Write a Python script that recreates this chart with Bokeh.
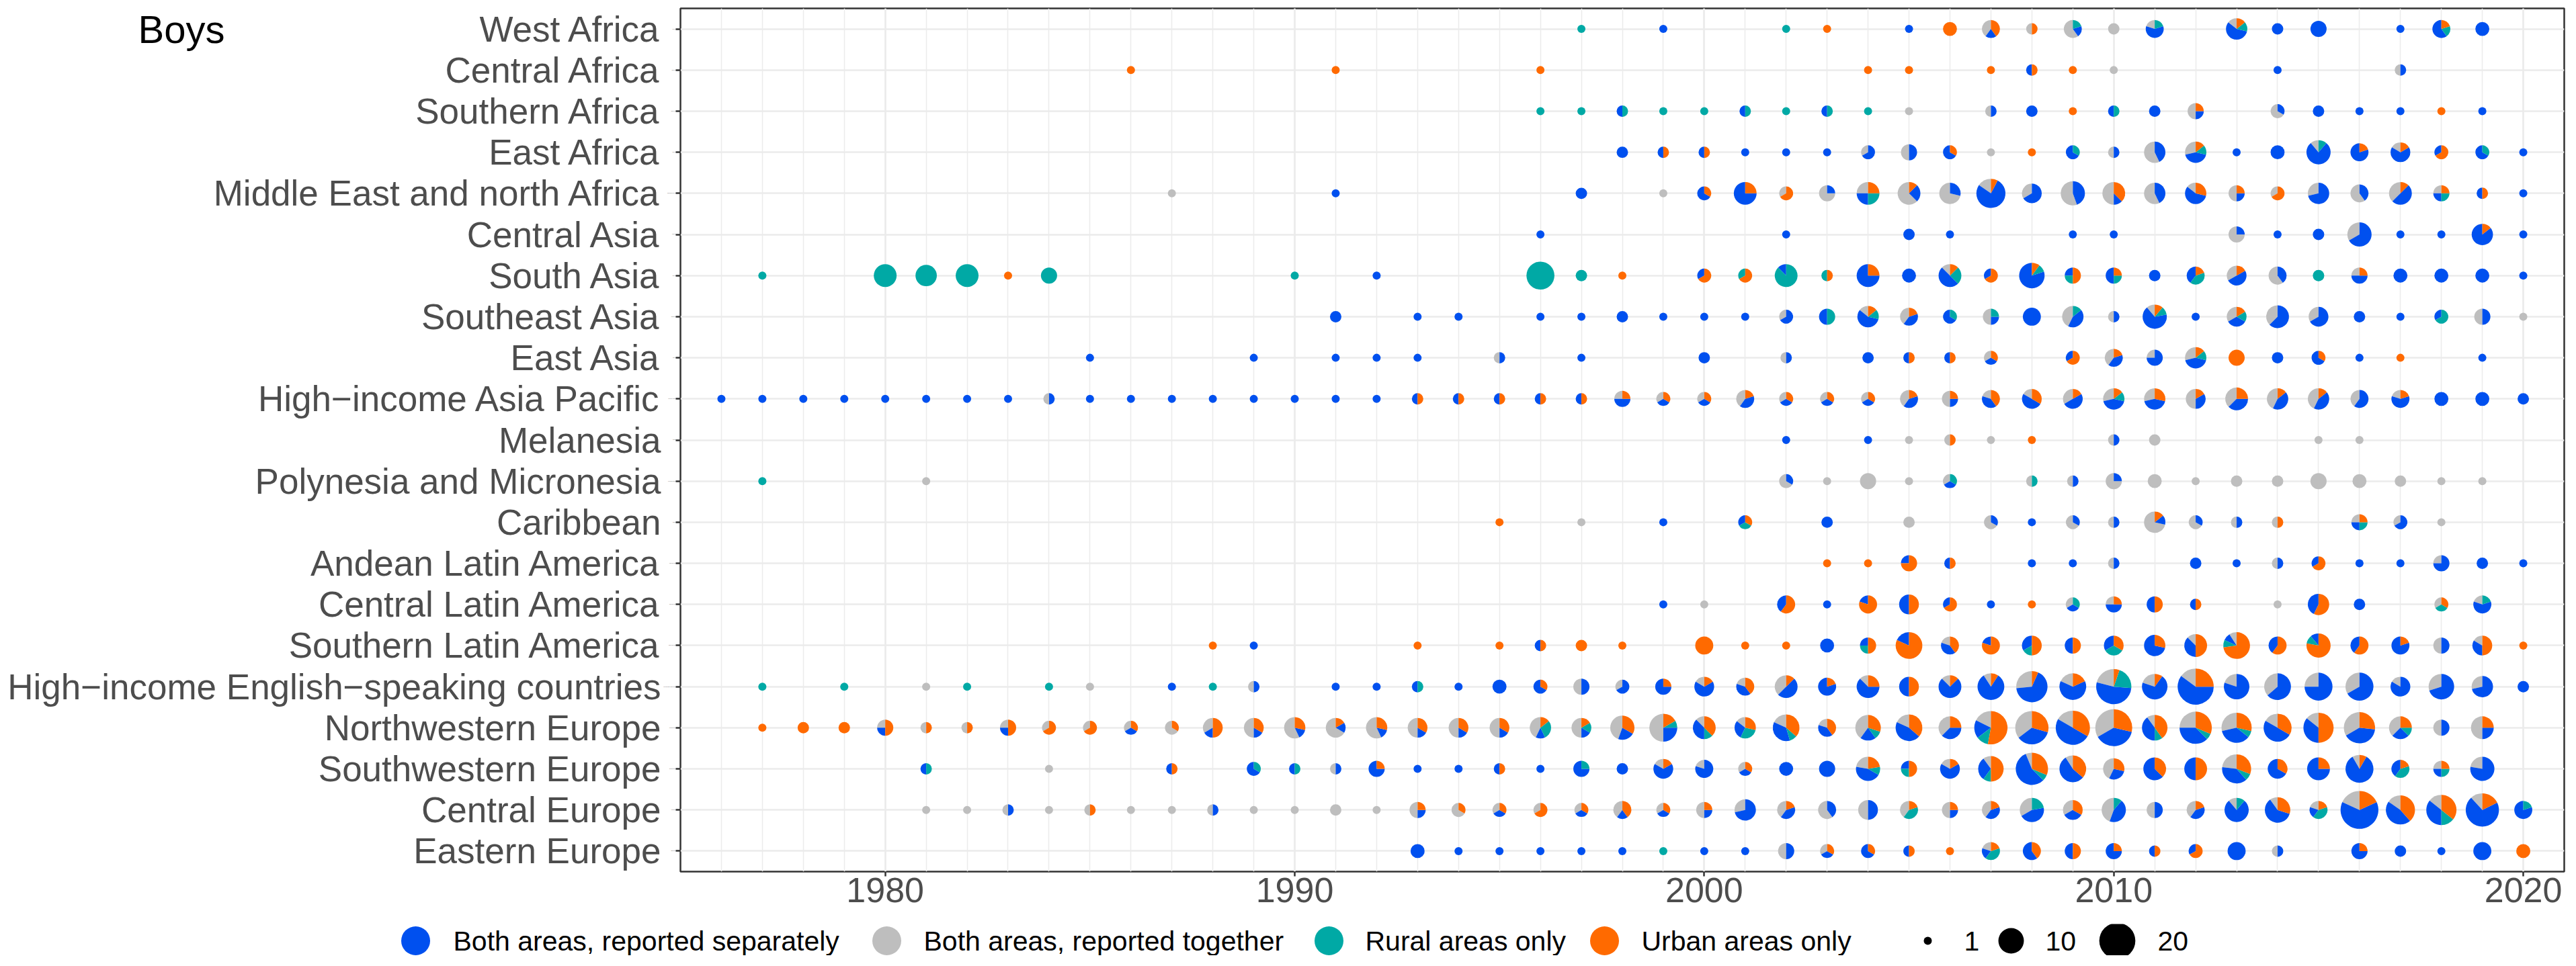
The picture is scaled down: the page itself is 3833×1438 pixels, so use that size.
import math
from bokeh.plotting import figure
from bokeh.models import ColumnDataSource, Range1d, FactorRange, SingleIntervalTicker
from bokeh.layouts import column, row
from bokeh.embed import file_html
from bokeh.resources import INLINE
from bokeh.core.properties import value

TITLE = "Boys"
# Regions, top to bottom
REGIONS = [
    "West Africa", "Central Africa", "Southern Africa", "East Africa",
    "Middle East and north Africa", "Central Asia", "South Asia", "Southeast Asia",
    "East Asia", "High\u2212income Asia Pacific", "Melanesia", "Polynesia and Micronesia",
    "Caribbean", "Andean Latin America", "Central Latin America", "Southern Latin America",
    "High\u2212income English\u2212speaking countries", "Northwestern Europe",
    "Southwestern Europe", "Central Europe", "Eastern Europe",
]

CATEGORIES = ["Both areas, reported separately", "Both areas, reported together",
              "Rural areas only", "Urban areas only"]
COLORS = ["#0050EF", "#BEBEBE", "#00A9A5", "#FF6A00"]
SIZE_BREAKS = [1, 10, 20]

# each entry: (year, separately, together, rural only, urban only)
west_africa = [(1997,0,0,1,0),(1999,1,0,0,0),(2002,0,0,1,0),(2003,0,0,0,1),(2005,1,0,0,0),
    (2006,0,0,0,3),(2007,1,2,0,2),(2008,0,1,0,1),(2009,1,3,1,0),(2010,0,2,0,0),(2011,3,1,1,0),
    (2013,4,1,1,1),(2014,2,0,0,0),(2015,4,0,0,0),(2017,1,0,0,0),(2018,3,0,1,1),(2019,3,0,0,0)]
central_africa = [(1986,0,0,0,1),(1991,0,0,0,1),(1996,0,0,0,1),(2004,0,0,0,1),(2005,0,0,0,1),
    (2007,0,0,0,1),(2008,1,0,0,1),(2009,0,0,0,1),(2010,0,1,0,0),(2014,1,0,0,0),(2017,1,1,0,0)]
southern_africa = [(1996,0,0,1,0),(1997,0,0,1,0),(1998,1,0,1,0),(1999,0,0,1,0),(2000,0,0,1,0),
    (2001,1,0,1,0),(2002,0,0,1,0),(2003,1,0,1,0),(2004,0,0,1,0),(2005,0,1,0,0),(2007,1,1,0,0),
    (2008,2,0,0,0),(2009,0,0,0,1),(2010,1,0,1,0),(2011,2,0,0,0),(2012,1,2,0,1),(2014,1,2,0,0),
    (2015,2,0,0,0),(2016,1,0,0,0),(2017,1,0,0,0),(2018,0,0,0,1),(2019,1,0,0,0)]
east_africa = [(1998,2,0,0,0),(1999,1,0,0,1),(2000,1,0,0,1),(2001,1,0,0,0),(2002,1,0,0,0),
    (2003,1,0,0,0),(2004,2,1,0,0),(2005,2,2,0,0),(2006,2,0,0,1),(2007,0,1,0,0),(2008,0,0,0,1),
    (2009,2,0,1,0),(2010,1,1,0,0),(2011,3,4,0,0),(2012,3,2,1,1),(2013,1,0,0,0),(2014,3,0,0,0),
    (2015,7,1,1,0),(2016,4,0,0,1),(2017,4,1,0,1),(2018,1,0,0,2),(2019,2,0,1,0),(2020,1,0,0,0)]
mena = [(1987,0,1,0,0),(1991,1,0,0,0),(1997,2,0,0,0),(1999,0,1,0,0),(2000,2,0,0,1),
    (2001,6,0,0,2),(2002,0,1,0,2),(2003,1,3,0,0),(2004,2,2,2,2),(2005,2,5,0,1),(2006,2,5,0,0),
    (2007,10,2,0,1),(2008,4,2,0,0),(2009,4,5,0,0),(2010,1,4,0,3),(2011,3,4,0,0),(2012,4,1,0,2),
    (2013,1,2,0,1),(2014,0,1,0,2),(2015,5,2,0,0),(2016,2,3,0,0),(2017,4,3,0,1),(2018,1,1,1,1),
    (2019,1,0,0,1),(2020,1,0,0,0)]
central_asia = [(1996,1,0,0,0),(2002,1,0,0,0),(2005,2,0,0,0),(2006,1,0,0,0),(2009,1,0,0,0),
    (2010,1,0,0,0),(2013,1,3,0,0),(2014,1,0,0,0),(2015,2,0,0,0),(2016,6,3,0,0),(2017,1,0,0,0),
    (2018,1,0,0,0),(2019,6,0,0,1),(2020,1,0,0,0)]
south_asia = [(1977,0,0,1,0),(1980,0,0,8,0),(1981,0,0,7,0),(1982,0,0,8,0),(1983,0,0,0,1),
    (1984,0,0,4,0),(1990,0,0,1,0),(1992,1,0,0,0),(1996,0,0,12,0),(1997,0,0,2,0),(1998,0,0,0,1),
    (2000,1,0,0,2),(2001,0,0,1,2),(2002,1,0,7,0),(2003,0,0,1,1),(2004,6,0,0,2),(2005,3,0,0,0),
    (2006,4,1,2,1),(2007,1,0,0,2),(2008,8,0,1,1),(2009,1,0,1,2),(2010,2,0,1,1),(2011,2,0,0,0),
    (2012,2,0,2,1),(2013,3,2,0,1),(2014,2,3,0,0),(2015,0,0,2,0),(2016,2,1,0,1),(2017,3,0,0,0),
    (2018,3,0,0,0),(2019,3,0,0,0),(2020,1,0,0,0)]
southeast_asia = [(1991,2,0,0,0),(1993,1,0,0,0),(1994,1,0,0,0),(1996,1,0,0,0),(1997,1,0,0,0),
    (1998,2,0,0,0),(1999,1,0,0,0),(2000,1,0,0,0),(2001,1,0,0,0),(2002,2,1,0,0),(2003,2,0,2,0),
    (2004,4,1,1,1),(2005,2,2,0,1),(2006,2,0,1,0),(2007,1,2,1,0),(2008,5,0,0,0),(2009,3,3,1,0),
    (2010,1,1,0,0),(2011,6,1,1,1),(2012,1,0,0,0),(2013,2,2,1,1),(2014,5,3,0,0),(2015,4,2,0,0),
    (2016,2,0,0,0),(2017,1,0,0,0),(2018,1,0,2,0),(2019,2,2,0,0),(2020,0,1,0,0)]
east_asia = [(1985,1,0,0,0),(1989,1,0,0,0),(1991,1,0,0,0),(1992,1,0,0,0),(1993,1,0,0,0),
    (1995,1,1,0,0),(1997,1,0,0,0),(2000,2,0,0,0),(2002,1,1,0,0),(2004,2,0,0,0),(2005,1,0,0,1),
    (2006,1,0,0,1),(2007,1,1,0,1),(2009,1,0,0,2),(2010,2,2,0,1),(2011,3,1,0,0),(2012,3,2,1,1),
    (2013,0,0,0,4),(2014,2,0,0,0),(2015,2,0,0,1),(2016,1,0,0,0),(2017,0,0,0,1),(2019,1,0,0,0)]
hi_asia_pacific = [(1976,1,0,0,0),(1977,1,0,0,0),(1978,1,0,0,0),(1979,1,0,0,0),(1980,1,0,0,0),
    (1981,1,0,0,0),(1982,1,0,0,0),(1983,1,0,0,0),(1984,1,1,0,0),(1985,1,0,0,0),(1986,1,0,0,0),
    (1987,1,0,0,0),(1988,1,0,0,0),(1989,1,0,0,0),(1990,1,0,0,0),(1991,1,0,0,0),(1992,1,0,0,0),
    (1993,1,0,0,1),(1994,1,0,0,1),(1995,1,0,0,1),(1996,1,0,0,1),(1997,1,0,0,1),(1998,2,1,0,1),
    (1999,1,1,0,1),(2000,1,1,0,1),(2001,2,2,0,1),(2002,1,1,0,1),(2003,1,1,0,1),(2004,1,1,0,1),
    (2005,2,2,0,1),(2006,1,2,0,1),(2007,2,1,0,2),(2008,3,1,0,2),(2009,3,2,0,1),(2010,3,2,1,1),
    (2011,3,2,0,2),(2012,2,3,0,1),(2013,3,3,0,2),(2014,3,3,0,1),(2015,3,3,0,1),(2016,3,2,0,0),
    (2017,3,1,0,1),(2018,3,0,0,0),(2019,3,0,0,0),(2020,2,0,0,0)]
melanesia = [(2002,1,0,0,0),(2004,1,0,0,0),(2005,0,1,0,0),(2006,0,1,0,1),(2007,0,1,0,0),
    (2008,0,0,0,1),(2010,1,1,0,0),(2011,0,2,0,0),(2015,0,1,0,0),(2016,0,1,0,0)]
polynesia_micronesia = [(1977,0,0,1,0),(1981,0,1,0,0),(2002,1,2,0,0),(2003,0,1,0,0),(2004,0,4,0,0),
    (2005,0,1,0,0),(2006,1,1,1,0),(2008,0,1,1,0),(2009,1,1,0,0),(2010,1,3,0,0),(2011,0,3,0,0),
    (2012,0,1,0,0),(2013,0,2,0,0),(2014,0,2,0,0),(2015,0,4,0,0),(2016,0,3,0,0),(2017,0,2,0,0),
    (2018,0,1,0,0),(2019,0,1,0,0)]
caribbean = [(1995,0,0,0,1),(1997,0,1,0,0),(1999,1,0,0,0),(2001,1,0,1,1),(2003,2,0,0,0),
    (2005,0,2,0,0),(2007,1,2,0,0),(2008,1,0,0,0),(2009,1,2,0,0),(2010,1,1,0,0),(2011,1,5,0,1),
    (2012,1,2,0,0),(2013,1,1,0,0),(2014,0,1,0,1),(2016,1,1,1,1),(2017,2,1,0,0),(2018,0,1,0,0)]
andean_la = [(2003,0,0,0,1),(2004,0,0,0,1),(2005,1,0,0,3),(2006,1,0,0,1),(2008,1,0,0,0),
    (2009,1,0,0,0),(2010,1,1,0,0),(2012,2,0,0,0),(2013,1,0,0,0),(2014,1,1,0,0),(2015,1,0,0,2),
    (2016,1,0,0,0),(2017,1,0,0,0),(2018,3,1,0,0),(2019,2,0,0,0),(2020,1,0,0,0)]
central_la = [(1999,1,0,0,0),(2000,0,1,0,0),(2002,2,0,0,3),(2003,1,0,0,0),(2004,1,0,0,4),
    (2005,3,0,0,3),(2006,1,0,0,2),(2007,1,0,0,0),(2008,0,0,0,1),(2009,1,1,1,0),(2010,2,1,0,1),
    (2011,2,0,0,2),(2012,1,0,0,1),(2014,0,1,0,0),(2015,3,0,0,4),(2016,2,0,0,0),(2018,0,1,1,1),
    (2019,3,1,1,0)]
southern_la = [(1988,0,0,0,1),(1989,1,0,0,0),(1993,0,0,0,1),(1995,0,0,0,1),(1996,1,0,0,1),
    (1997,0,0,0,2),(1998,0,0,0,1),(2000,0,0,0,5),(2001,0,0,0,1),(2002,0,0,0,1),(2003,3,0,0,0),
    (2004,1,0,1,2),(2005,2,0,0,9),(2006,2,1,0,2),(2007,1,0,0,4),(2008,2,0,1,3),(2009,2,0,0,2),
    (2010,2,0,2,2),(2011,5,0,0,2),(2012,3,1,0,4),(2013,1,1,1,8),(2014,2,0,0,3),(2015,1,0,1,7),
    (2016,2,0,0,3),(2017,4,0,0,1),(2018,2,2,0,0),(2019,2,1,0,3),(2020,0,0,0,1)]
hi_english = [(1977,0,0,1,0),(1979,0,0,1,0),(1981,0,1,0,0),(1982,0,0,1,0),(1984,0,0,1,0),
    (1985,0,1,0,0),(1987,1,0,0,0),(1988,0,0,1,0),(1989,1,1,0,0),(1991,1,0,0,0),(1992,1,0,0,0),
    (1993,1,0,1,0),(1994,1,0,0,0),(1995,3,0,0,0),(1996,2,0,0,1),(1997,2,2,0,0),(1998,2,1,0,0),
    (1999,3,0,0,1),(2000,4,1,0,1),(2001,2,1,0,2),(2002,4,3,0,1),(2003,4,0,0,1),(2004,5,1,0,2),
    (2005,3,0,0,3),(2006,6,1,0,1),(2007,9,1,0,1),(2008,10,4,0,1),(2009,7,2,0,2),(2010,10,4,4,1),
    (2011,7,2,0,1),(2012,12,3,0,5),(2013,8,2,0,0),(2014,7,4,0,0),(2015,9,3,0,0),(2016,8,4,0,0),
    (2017,5,1,0,0),(2018,7,3,0,0),(2019,5,2,0,0),(2020,2,0,0,0)]
nw_europe = [(1977,0,0,0,1),(1978,0,0,0,2),(1979,0,0,0,2),(1980,1,1,0,2),(1981,0,1,0,1),
    (1982,0,1,0,1),(1983,1,1,0,2),(1984,0,1,0,2),(1985,0,1,0,2),(1986,1,1,0,1),(1987,0,2,0,1),
    (1988,1,2,0,3),(1989,1,3,0,2),(1990,1,4,0,2),(1991,1,4,0,1),(1992,1,4,0,2),(1993,1,3,0,2),
    (1994,1,3,0,2),(1995,1,3,0,2),(1996,1,3,2,1),(1997,1,3,1,1),(1998,2,4,0,3),(1999,3,6,1,2),
    (2000,3,1,1,3),(2001,2,1,2,2),(2002,4,2,1,4),(2003,2,1,0,2),(2004,2,4,1,3),(2005,5,2,0,4),
    (2006,3,3,0,2),(2007,3,3,2,9),(2008,6,6,0,5),(2009,9,3,0,6),(2010,8,7,0,6),(2011,4,1,1,4),
    (2012,6,4,1,5),(2013,5,4,1,4),(2014,6,2,0,4),(2015,5,2,0,7),(2016,6,5,0,4),(2017,2,3,1,2),
    (2018,2,2,0,0),(2019,2,4,0,2)]
sw_europe = [(1981,1,0,1,0),(1984,0,1,0,0),(1987,1,0,0,1),(1989,2,0,1,0),(1990,1,0,1,0),
    (1991,1,1,0,0),(1992,3,0,0,1),(1993,1,0,0,0),(1994,1,0,0,0),(1995,1,0,0,1),(1996,1,0,0,0),
    (1997,3,0,1,0),(1998,2,0,0,0),(1999,4,1,0,1),(2000,4,1,0,0),(2001,1,1,0,1),(2002,3,0,0,0),
    (2003,4,0,0,0),(2004,4,2,1,2),(2005,1,0,1,2),(2006,4,1,0,1),(2007,3,1,1,5),(2008,9,1,1,5),
    (2009,6,1,0,4),(2010,2,3,0,2),(2011,5,0,0,3),(2012,4,0,0,4),(2013,5,3,1,4),(2014,4,0,0,2),
    (2015,6,0,0,2),(2016,10,1,0,1),(2017,2,0,2,1),(2018,1,1,1,1),(2019,7,2,0,0)]
central_europe = [(1981,0,1,0,0),(1982,0,1,0,0),(1983,1,1,0,0),(1984,0,1,0,0),(1985,0,1,0,1),
    (1986,0,1,0,0),(1987,0,1,0,0),(1988,1,1,0,0),(1989,0,1,0,0),(1990,0,1,0,0),(1991,0,2,0,0),
    (1992,0,1,0,0),(1993,1,2,0,1),(1994,0,2,0,1),(1995,1,1,0,1),(1996,0,1,0,2),(1997,1,1,0,1),
    (1998,1,2,0,2),(1999,1,1,0,1),(2000,1,2,0,1),(2001,5,2,0,0),(2002,2,2,0,1),(2003,2,3,0,0),
    (2004,3,3,0,0),(2005,0,2,2,1),(2006,1,2,0,1),(2007,2,2,0,1),(2008,4,3,2,0),(2009,2,2,0,2),
    (2010,4,4,1,0),(2011,2,2,0,0),(2012,2,2,0,1),(2013,7,1,1,0),(2014,6,1,0,3),(2015,1,1,2,1),
    (2016,14,4,0,4),(2017,6,2,0,5),(2018,5,2,2,5),(2019,12,2,0,3),(2020,4,0,1,0)]
eastern_europe = [(1993,3,0,0,0),(1994,1,0,0,0),(1995,1,0,0,0),(1996,1,0,0,0),(1997,1,0,0,0),
    (1998,1,0,0,0),(1999,0,0,1,0),(2000,1,0,0,0),(2001,1,0,0,0),(2002,2,2,0,0),(2003,1,1,0,1),
    (2004,2,0,0,1),(2005,1,0,0,1),(2006,0,0,0,1),(2007,1,1,2,1),(2008,3,0,0,2),(2009,2,0,0,2),
    (2010,3,0,0,1),(2011,1,0,0,1),(2012,1,0,0,2),(2013,5,0,0,0),(2014,1,1,0,0),(2016,3,0,0,1),
    (2017,2,0,0,0),(2018,1,0,0,0),(2019,5,0,0,0),(2020,0,0,0,3)]

REGION_DATA = [west_africa, central_africa, southern_africa, east_africa, mena, central_asia,
               south_asia, southeast_asia, east_asia, hi_asia_pacific, melanesia,
               polynesia_micronesia, caribbean, andean_la, central_la, southern_la, hi_english,
               nw_europe, sw_europe, central_europe, eastern_europe]

# slices run counter-clockwise from 12 o'clock in this category order
SLICE_ORDER = [1, 0, 2, 3]
PX_PER_SQRT = 12.0  # pie diameter in px for one survey


def diam(n):
    return PX_PER_SQRT * math.sqrt(n)


w = dict(x=[], y=[], r=[], start=[], end=[], color=[])
c = dict(x=[], y=[], size=[], color=[])
for region, rows in zip(REGIONS, REGION_DATA):
    for rw in rows:
        year, counts = rw[0], rw[1:]
        n = sum(counts)
        nz = [k for k in range(4) if counts[k] > 0]
        if len(nz) == 1:
            c["x"].append(year); c["y"].append(region)
            c["size"].append(diam(n)); c["color"].append(COLORS[nz[0]])
            continue
        a = math.pi / 2
        for k in SLICE_ORDER:
            if counts[k] == 0:
                continue
            e = a + 2 * math.pi * counts[k] / n
            w["x"].append(year); w["y"].append(region); w["r"].append(diam(n) / 2)
            w["start"].append(a); w["end"].append(e); w["color"].append(COLORS[k])
            a = e

FONT = "Liberation Sans"
W = 3817
H_MAIN = 1375
FRAME_TOP = 12
FRAME_H = 1285
FRAME_BOTTOM = H_MAIN - FRAME_TOP - FRAME_H
W_LABELS = 984          # strip holding the title and the region names
AXIS_W = 14             # tick strip left of the panel

y_range = FactorRange(factors=REGIONS[::-1], range_padding=0)

# ---- main panel
p = figure(width=W - W_LABELS, height=H_MAIN, x_range=Range1d(1975, 2021), y_range=y_range,
           output_backend="svg", toolbar_location=None,
           min_border_left=AXIS_W, min_border_right=2, min_border_top=FRAME_TOP,
           min_border_bottom=FRAME_BOTTOM)
p.frame_align = False
p.background_fill_color = "white"
p.border_fill_color = "white"
p.outline_line_color = "#333333"
p.outline_line_width = 2.5

tick = SingleIntervalTicker(interval=10, num_minor_ticks=10)
p.xaxis.ticker = tick
p.xgrid.ticker = tick
p.xgrid.grid_line_color = "#EBEBEB"
p.xgrid.grid_line_width = 2.6
p.xgrid.minor_grid_line_color = "#EBEBEB"
p.xgrid.minor_grid_line_width = 1.5
p.ygrid.grid_line_color = "#EBEBEB"
p.ygrid.grid_line_width = 2.6

for ax in (p.xaxis[0], p.yaxis[0]):
    ax.axis_line_color = None
    ax.major_tick_line_color = "#333333"
    ax.major_tick_line_width = 2.5
    ax.major_tick_in = 0
    ax.major_tick_out = 7
    ax.minor_tick_line_color = None
    ax.major_label_text_font = FONT
    ax.major_label_text_color = "#4D4D4D"
p.xaxis.major_label_text_font_size = "52px"
p.xaxis.major_label_standoff = 2
# region names are drawn in the strip to the left, aligned on the same y scale
p.yaxis.major_label_overrides = {r: "" for r in REGIONS}
p.yaxis.major_label_standoff = 0
p.yaxis.major_label_text_font_size = "1px"

p.wedge(x="x", y="y", radius="r", radius_units="screen", start_angle="start", end_angle="end",
        direction="anticlock", fill_color="color", line_color=None, source=ColumnDataSource(w))
p.scatter(x="x", y="y", size="size", marker="circle", fill_color="color", line_color=None,
          source=ColumnDataSource(c))

# ---- label strip (shares the categorical y scale)
lab = figure(width=W_LABELS, height=H_MAIN, x_range=Range1d(0, W_LABELS), y_range=y_range,
             output_backend="svg", toolbar_location=None, x_axis_type=None, y_axis_type=None,
             min_border_left=0, min_border_right=0, min_border_top=FRAME_TOP,
             min_border_bottom=FRAME_BOTTOM)
lab.frame_align = False
lab.outline_line_color = None
lab.grid.visible = False
lab.text(x=[W_LABELS - 1] * len(REGIONS), y=REGIONS, text=REGIONS, text_font=value(FONT),
         text_font_size=value("53px"), text_color="#4D4D4D", text_align="right",
         text_baseline="middle")
lab.text(x=[205], y=[REGIONS[0]], text=[TITLE], text_font=value(FONT),
         text_font_size=value("58px"), text_color="black", text_align="left",
         text_baseline="middle")

# ---- legend strip
H_LEG = 1422 - H_MAIN
lg = figure(width=W, height=H_LEG, x_range=Range1d(0, W), y_range=Range1d(0, H_LEG),
            output_backend="svg", toolbar_location=None, x_axis_type=None, y_axis_type=None,
            min_border=0)
lg.frame_align = False
lg.outline_line_color = None
lg.grid.visible = False
yc = H_LEG - 25
key_x = [618, 1319, 1977, 2387]
lab_x = [674, 1374, 2031, 2442]
lg.scatter(x=key_x, y=[yc] * 4, size=43, marker="circle", fill_color=COLORS, line_color=None)
lg.text(x=lab_x, y=[yc] * 4, text=CATEGORIES, text_font=value(FONT), text_font_size=value("41px"),
        text_baseline="middle", text_align="left", text_color="black")
size_x = [2868, 2992, 3150]
size_lab_x = [2922, 3043, 3210]
lg.scatter(x=size_x, y=[yc] * 3, size=[diam(s) for s in SIZE_BREAKS], marker="circle",
           fill_color="black", line_color=None)
lg.text(x=size_lab_x, y=[yc] * 3, text=[str(s) for s in SIZE_BREAKS], text_font=value(FONT),
        text_font_size=value("41px"), text_baseline="middle", text_align="left", text_color="black")

layout = column(row(lab, p, spacing=0), lg, spacing=0)
open("out.html", "w").write(file_html(layout, INLINE))
